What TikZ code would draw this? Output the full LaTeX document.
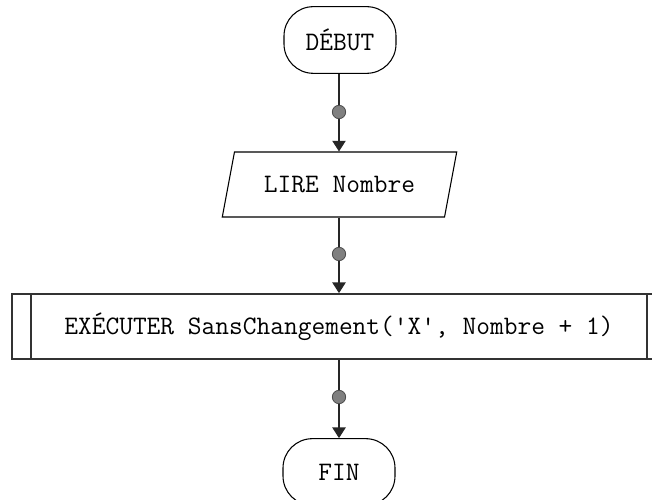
\documentclass[tikz,border=0pt]{standalone}
\usepackage{fontspec}
\usetikzlibrary{arrows.meta,positioning,shapes.geometric}
\newcommand{\orgfont}{\ttfamily\fontsize{20}{24}\selectfont}
\tikzset{
  term/.style  = {draw, line width=0.8pt, rounded corners=22pt, minimum width=84pt,
                  minimum height=50pt, font=\orgfont},
  io/.style    = {draw, line width=0.8pt, trapezium, trapezium left angle=70,
                  trapezium right angle=110, trapezium stretches=true,
                  minimum width=176pt, minimum height=48.75pt, font=\orgfont},
  proc/.style  = {draw=black!80, line width=1.3pt, minimum width=490.5pt,
                  minimum height=48.75pt, font=\orgfont},
  joint/.style = {circle, draw=black!70, fill=black!50, line width=0.6pt,
                  minimum size=10pt, inner sep=0pt},
  flow/.style  = {line width=0.9pt, black!85},
  tip/.style   = {flow, -{Triangle[length=8pt,width=10pt]}},
}

\begin{document}
\begin{tikzpicture}[x=0.75pt,y=0.75pt]
  \useasboundingbox (0,0) rectangle (652,499);
  \clip (0,0) rectangle (652,499);
  \fill[white] (0,0) rectangle (652,499);
  % blocs
  \node[term] (debut) at (340,459) {DÉBUT};
  \node[joint] (j1) at (339,387) {};
  \node[io] (lire) at (339.5,314.5) {LIRE Nombre};
  \node[joint] (j2) at (339,245) {};
  \node[proc] (exec) at (339,172.5) {EXÉCUTER SansChangement('X', Nombre + 1)};
  \draw[draw=black!80, line width=1.3pt]
    ([xshift=15pt]exec.north west) -- ([xshift=15pt]exec.south west)
    ([xshift=-15pt]exec.north east) -- ([xshift=-15pt]exec.south east);
  \node[joint] (j3) at (339,102) {};
  \node[term] (fin) at (339,27) {FIN};
  % liaisons
  \draw[flow] (debut.south -| j1) -- (j1);
  \draw[tip] (j1) -- (lire.north -| j1);
  \draw[flow] (lire.south -| j2) -- (j2);
  \draw[tip] (j2) -- (exec.north -| j2);
  \draw[flow] (exec.south -| j3) -- (j3);
  \draw[tip] (j3) -- (fin.north -| j3);
\end{tikzpicture}
\end{document}
